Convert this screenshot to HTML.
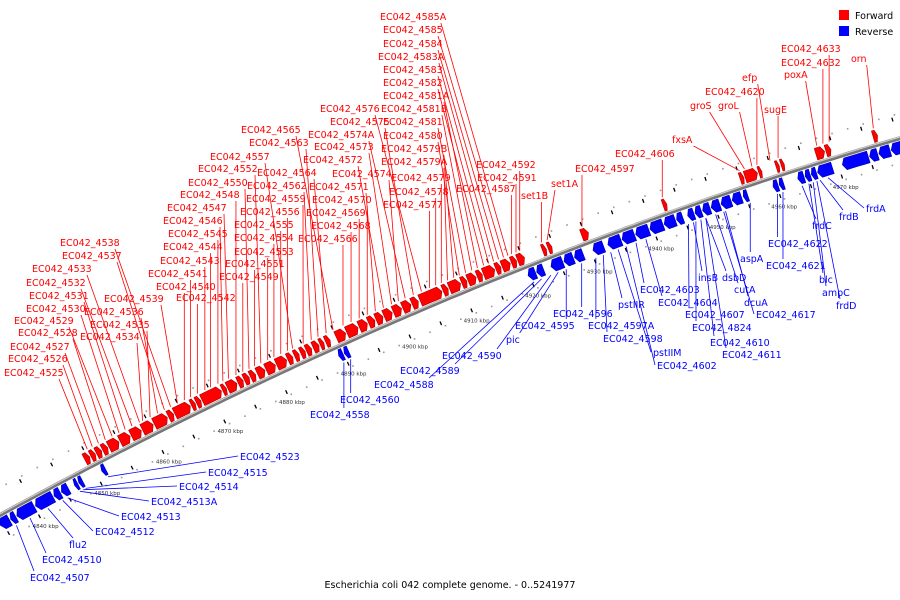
<!DOCTYPE html>
<html><head><meta charset="utf-8"><style>
html,body{margin:0;padding:0;background:#fff;}
svg{display:block;font-family:"DejaVu Sans","Liberation Sans",sans-serif;}
</style></head><body>
<svg id="chart" width="900" height="600" viewBox="0 0 900 600">
<defs>
<linearGradient id="bb" x1="0" y1="0" x2="0" y2="1"><stop offset="0" stop-color="#ddd"/><stop offset="0.5" stop-color="#777"/><stop offset="1" stop-color="#444"/></linearGradient>
</defs>
<g id="ticks"></g>
<path id="backbone" fill="none" stroke="#777" stroke-width="4"/>
<path id="backbone2" fill="none" stroke="#ccc" stroke-width="1.2"/>
<g id="genes"></g>
<g id="lines"></g>
<g id="labels"></g>
<g>
<rect x="839" y="10" width="10" height="10" fill="#f00"/>
<text x="855" y="19" font-size="9.5" fill="#000">Forward</text>
<rect x="839" y="26" width="10" height="10" fill="#00f"/>
<text x="855" y="35" font-size="9.5" fill="#000">Reverse</text>
</g>
<text x="450" y="588" font-size="9.5" text-anchor="middle" fill="#000">Escherichia coli 042 complete genome. - 0..5241977</text>
</svg>
<script>
// ---- data (kbp) ----
const fwdStart=[4849.5,4850.5,4851.4,4852.4,4853.4,4855.2,4857,4858.8,4860.7,4863,4864,4866.7,4867.5,4868.4,4871.7,4872.5,4874.2,4875.2,4876.2,4877.3,4878.7,4880.4,4882.2,4883.3,4884.3,4885.2,4886.3,4887.4,4888.3,4890,4891.7,4893.7,4895.2,4896.4,4897.7,4899.2,4900.7,4902.2,4903.5,4907.2,4908.2,4910.2,4911.2,4912.7,4913.7,4915.7,4916.7,4918.2,4919.2,4923.2,4924.1,4929.5,4942.6,4955,4955.8,4958,4960.8,4961.6,4967.2,4968.8,4976.4];
const fwdEnd=[4850.3,4851.2,4852.2,4853.2,4855,4856.8,4858.6,4860.5,4862.8,4863.8,4866.5,4867.3,4868.2,4871.5,4872.3,4874,4875,4876,4877,4878.5,4880.2,4882,4883,4884,4885,4886,4887.2,4888,4889,4891.5,4893.5,4895,4896.2,4897.5,4899,4900.5,4902,4903.2,4907,4908,4910,4911,4912.5,4913.5,4915.5,4916.5,4918,4919,4920.3,4923.8,4924.7,4930.6,4943.2,4955.6,4957.8,4958.5,4961.3,4962.1,4968.6,4969.6,4977.1];
const revStart=[4834.5,4836.2,4837.2,4840.2,4843.2,4844.4,4846.5,4847.2,4850.9,4889.2,4890.1,4919.8,4921.2,4923.5,4925.6,4927.3,4930.3,4932.7,4935,4937.2,4939.5,4941.8,4943.8,4945.6,4946.8,4948,4949.4,4951,4952.8,4954.6,4959.4,4960.4,4963.4,4964.6,4965.6,4966.6,4970.6,4975,4976.5,4978.5];
const revEnd=[4836,4837,4840,4843,4844.2,4845.5,4847,4847.8,4851.5,4889.9,4890.8,4921,4922.3,4925.4,4927.1,4928.7,4932,4934.8,4937,4939.3,4941.6,4943.6,4944.8,4946.6,4947.8,4949.2,4950.8,4952.6,4954.3,4955.3,4960.2,4961.1,4964.4,4965.4,4966.4,4969,4974.8,4976.3,4978.3,4980.5];
const fwdNames=["EC042_4525","EC042_4526","EC042_4527","EC042_4528","EC042_4529","EC042_4530","EC042_4531","EC042_4532","EC042_4533","EC042_4534","EC042_4535","EC042_4536","EC042_4537","EC042_4538","EC042_4539","EC042_4540","EC042_4541","EC042_4542","EC042_4543","EC042_4544","EC042_4545","EC042_4546","EC042_4547","EC042_4548","EC042_4549","EC042_4550","EC042_4551","EC042_4552","EC042_4553","EC042_4554","EC042_4555","EC042_4556","EC042_4557","EC042_4559","EC042_4562","EC042_4563","EC042_4564","EC042_4565","EC042_4566","EC042_4568","EC042_4569","EC042_4570","EC042_4571","EC042_4572","EC042_4573","EC042_4574","EC042_4574A","EC042_4575","EC042_4576","EC042_4577","EC042_4578","EC042_4579","EC042_4579A","EC042_4579B","EC042_4580","EC042_4581","EC042_4581B","EC042_4581A","EC042_4582","EC042_4583","EC042_4583A","EC042_4584","EC042_4585","EC042_4585A","EC042_4587","EC042_4591","EC042_4592","set1B","set1A","EC042_4597","EC042_4606","fxsA","groS","groL","EC042_4620","efp","sugE","poxA","EC042_4632","EC042_4633","orn"];
const fwdPos=[4850.5,4851.3,4852.3,4853.4,4854.5,4855.6,4856.6,4857.7,4858.9,4859.4,4860.6,4861.8,4862.9,4863.9,4865,4866.1,4867.1,4868.2,4869.4,4870.3,4871.5,4872.3,4873.2,4874.4,4875.5,4876.5,4877.4,4878.4,4879.5,4880.5,4881.6,4882.7,4883.5,4885.2,4886.5,4887.6,4888.9,4890,4891.6,4892.9,4894.2,4895.5,4896.8,4898.1,4899.4,4900.5,4901.6,4902.9,4904.2,4905.5,4906.5,4907.4,4908.4,4909.4,4910.3,4911.3,4912.3,4913.2,4914.2,4915,4915.8,4916.6,4917.4,4918.1,4918.7,4919.4,4920,4923.5,4924.4,4930,4942.9,4955.3,4956.1,4957.3,4958.1,4960.2,4961.5,4967.7,4968.7,4969.7,4976.8];
const fwdLx=[4,8,10,18,14,26,29,26,32,80,90,84,62,60,104,156,148,176,160,163,168,163,167,180,219,188,225,198,234,234,234,240,210,246,247,249,257,241,298,311,306,312,309,303,314,332,308,330,320,383,389,391,381,381,383,383,381,383,383,383,378,383,383,380,456,477,476,521,551,575,615,672,690,718,705,742,764,784,781,781,851];
const fwdLy=[376,362,350,336,324,312,299,286,272,340,328,315,259,246,302,290,277,301,264,250,237,224,211,198,280,186,267,172,255,241,228,215,160,202,189,146,176,133,242,229,216,203,190,163,150,177,138,125,112,208,195,181,165,152,139,125,112,99,86,73,60,47,33,20,192,181,168,199,187,172,157,143,109,109,95,81,113,78,66,52,62];
const revNames=["EC042_4507","EC042_4510","flu2","EC042_4512","EC042_4513","EC042_4513A","EC042_4514","EC042_4515","EC042_4523","EC042_4558","EC042_4560","EC042_4588","EC042_4589","EC042_4590","pic","EC042_4595","EC042_4596","EC042_4597A","EC042_4598","pstIIR","pstIIM","EC042_4602","EC042_4603","EC042_4604","insB","EC042_4607","EC042_4824","dsbD","EC042_4610","EC042_4611","cutA","EC042_4617","dcuA","aspA","EC042_4622","EC042_4621","frdC","blc","ampC","frdD","frdB","frdA"];
const revPos=[4836.5,4838.7,4841.6,4844,4844.8,4846.8,4847.3,4847.7,4851.3,4889.5,4890.6,4920.3,4921.5,4923,4924.2,4925.5,4928,4930.3,4931.5,4932.7,4933.9,4935.2,4936.8,4938.4,4946.1,4945.3,4946.5,4948.1,4947.3,4948.1,4949.7,4951,4951.3,4955.3,4959.7,4960.6,4963.7,4964.8,4965.5,4966.1,4966.6,4967.9];
const revLx=[30,42,69,95,121,151,179,208,240,310,340,374,400,442,506,515,553,588,603,618,653,657,640,658,698,685,692,722,710,722,734,756,744,740,768,766,812,819,822,836,839,866];
const revLy=[581,563,548,535,520,505,490,476,460,418,403,388,374,359,343,329,317,329,342,308,356,369,293,306,281,318,331,281,346,358,293,318,306,262,247,269,229,283,296,309,220,212];
const tickKbp=[4840,4850,4860,4870,4880,4890,4900,4910,4920,4930,4940,4950,4960,4970];

// ---- axis functions ----
function xOf(k){return 30+(k-4840)*6.2;}
function fy(x){return 515-0.547*x+1.426e-4*x*x;}
function dfy(x){return -0.547+2*1.426e-4*x;}
function pt(k,off){const x=xOf(k),d=dfy(x),n=Math.hypot(d,1);return [x+off*d/n,fy(x)-off/n];}
const NS="http://www.w3.org/2000/svg";
function mk(tag,attrs,parent){const e=document.createElementNS(NS,tag);for(const a in attrs)e.setAttribute(a,attrs[a]);parent.appendChild(e);return e;}

// backbone
let d="";for(let x=-10;x<=910;x+=5){d+=(x===-10?"M":"L")+x+","+fy(x).toFixed(1)+" ";}
document.getElementById('backbone').setAttribute('d',d);
document.getElementById('backbone2').setAttribute('d',d.replace(/,([\d.]+)/g,(m,v)=>","+(parseFloat(v)-1.2).toFixed(1)));

// ticks
const tg=document.getElementById('ticks');
for(let k=4833;k<=4982;k+=2.5){
 for(const off of [24,-24]){const p=pt(k,off);const c=mk('rect',{x:p[0]-0.8,y:p[1]-0.8,width:1.6,height:1.6,fill:'#999'},tg);
 
 }
}
for(let k=4835;k<=4980;k+=5){
 for(const off of [20,-20]){const a=pt(k,off-2),b=pt(k,off+2);const l=mk('line',{x1:a[0],y1:a[1],x2:b[0],y2:b[1],stroke:'#000','stroke-width':1.3},tg);
 
 }
}
tickKbp.forEach(k=>{const p=pt(k,-33);const t=mk('text',{x:p[0],y:p[1],'font-size':5.5,fill:'#333','text-anchor':'middle'},tg);t.textContent=k+" kbp";
 
 });

// genes
const gg=document.getElementById('genes');
function gene(s,e,dir,fill,dark){
 const r1=dir>0?3:-3,r2=dir>0?15:-15,rm=(r1+r2)/2;
 const len=e-s,head=Math.min(len*0.4,0.5);
 const tip=dir>0?e:s,bodyEnd=dir>0?e-head:s+head,bodyStart=dir>0?s:e;
 const pts=[];const n=4;
 for(let i=0;i<=n;i++){pts.push(pt(bodyStart+(bodyEnd-bodyStart)*i/n,r1));}
 pts.push(pt(tip,rm));
 for(let i=n;i>=0;i--){pts.push(pt(bodyStart+(bodyEnd-bodyStart)*i/n,r2));}
 const p=mk('polygon',{points:pts.map(q=>q[0].toFixed(1)+","+q[1].toFixed(1)).join(" "),fill:fill,stroke:dark,'stroke-width':0.6},gg);
 
 
}
fwdStart.forEach((s,i)=>gene(s,fwdEnd[i],1,'#f00','#a00'));
revStart.forEach((s,i)=>gene(s,revEnd[i],-1,'#00f','#00a'));

// labels
const lg=document.getElementById('labels'),ll=document.getElementById('lines');
function cw(t){return t.length*5.9;}
fwdNames.forEach((nm,i)=>{
 const t=mk('text',{x:fwdLx[i],y:fwdLy[i],'font-size':9.5,fill:'#f00'},lg);t.textContent=nm;
 
 
 const g=pt(fwdPos[i],17);const right=fwdLx[i]+cw(nm);
 let sx=Math.min(Math.max(g[0],fwdLx[i]+4),right-2),sy=fwdLy[i]+3;
 if(g[0]>right+15&&g[1]>fwdLy[i]+40){sx=right-4;}
 const l=mk('line',{x1:sx,y1:sy,x2:g[0],y2:g[1],stroke:'#f00','stroke-width':0.8},ll);
 
 
});
revNames.forEach((nm,i)=>{
 const t=mk('text',{x:revLx[i],y:revLy[i],'font-size':9.5,fill:'#00f'},lg);t.textContent=nm;
 
 
 const g=pt(revPos[i],-17);let ex,ey;
 if(revLx[i]>g[0]+25){ex=revLx[i]-2;ey=revLy[i]-4;}else{ex=Math.max(revLx[i]+4,Math.min(g[0],revLx[i]+cw(nm)-4));ey=revLy[i]-10;}
 const l=mk('line',{x1:g[0],y1:g[1],x2:ex,y2:ey,stroke:'#00f','stroke-width':0.8},ll);
 
 
});
</script>
</body></html>
